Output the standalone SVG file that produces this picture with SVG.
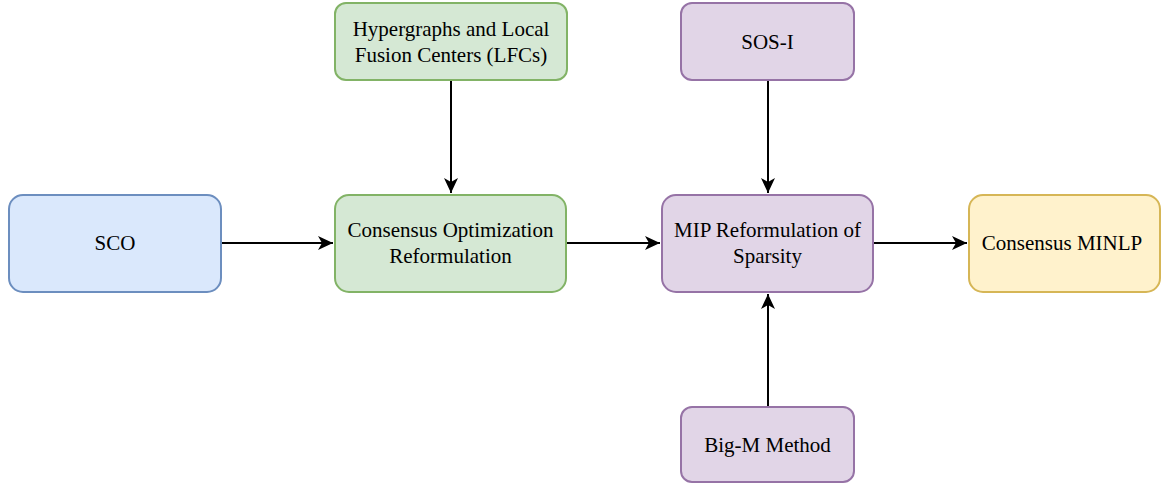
<svg xmlns="http://www.w3.org/2000/svg" width="1161" height="483" viewBox="0 0 1161 483">
<style>
rect{stroke-width:2}
.b{fill:#dae8fc;stroke:#6c8ebf}
.g{fill:#d5e8d4;stroke:#82b366}
.p{fill:#e1d5e7;stroke:#9673a6}
.y{fill:#fff2cc;stroke:#d6b656}
text{font-family:"Liberation Serif","Times New Roman",serif;font-size:21px;fill:#000;text-anchor:middle}
.e{fill:none;stroke:#000;stroke-width:2}
</style>
<defs>
<marker id="ah" markerUnits="userSpaceOnUse" markerWidth="16" markerHeight="14" refX="15" refY="7" orient="auto" viewBox="0 0 16 14">
<path d="M0,0 L15,7 L0,14 L4,7 Z" fill="#000"/>
</marker>
</defs>
<rect width="1161" height="483" fill="#fff"/>
<g id="connectors">
<line class="e" x1="221" y1="243" x2="333" y2="243" marker-end="url(#ah)"/>
<line class="e" x1="451" y1="80" x2="451" y2="193" marker-end="url(#ah)"/>
<line class="e" x1="566" y1="243" x2="660" y2="243" marker-end="url(#ah)"/>
<line class="e" x1="768" y1="80" x2="768" y2="193" marker-end="url(#ah)"/>
<line class="e" x1="768" y1="407" x2="768" y2="294" marker-end="url(#ah)"/>
<line class="e" x1="873" y1="243" x2="967" y2="243" marker-end="url(#ah)"/>
</g>
<g id="sco"><rect class="b" x="9" y="195" width="212" height="97" rx="14"/><text x="115" y="250">SCO</text></g>
<g id="hyper"><rect class="g" x="335" y="3" width="232" height="77" rx="11"/><text x="451" y="36">Hypergraphs and Local</text><text x="451" y="62">Fusion Centers (LFCs)</text></g>
<g id="consensus"><rect class="g" x="335" y="195" width="231" height="97" rx="14"/><text x="450.5" y="237">Consensus Optimization</text><text x="450.5" y="263">Reformulation</text></g>
<g id="sos"><rect class="p" x="681" y="3" width="173" height="77" rx="11"/><text x="767.5" y="49">SOS-I</text></g>
<g id="mip"><rect class="p" x="662" y="195" width="211" height="97" rx="14"/><text x="767.5" y="237">MIP Reformulation of</text><text x="767.5" y="263">Sparsity</text></g>
<g id="bigm"><rect class="p" x="681" y="407" width="173" height="75" rx="11"/><text x="767.5" y="452">Big-M Method</text></g>
<g id="minlp"><rect class="y" x="969" y="195" width="191" height="97" rx="14"/><text x="1062" y="250">Consensus MINLP</text></g>
</svg>
